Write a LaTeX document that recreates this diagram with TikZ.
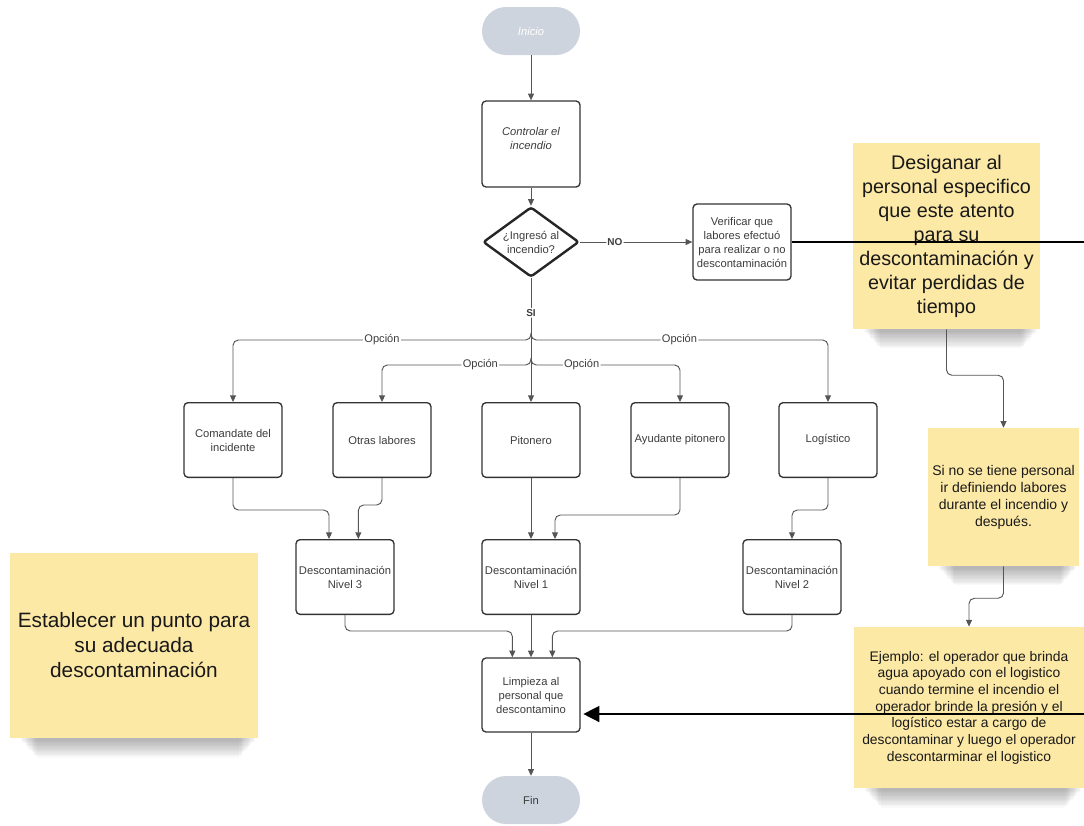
\documentclass[tikz,border=0pt]{standalone}
\usepackage{fontspec}
\setmainfont{Liberation Sans}
\usetikzlibrary{shapes.geometric, arrows.meta, calc, backgrounds}

\definecolor{pilagris}{RGB}{206,212,221}
\definecolor{notaamarilla}{RGB}{253,233,166}
\definecolor{lineagris}{RGB}{85,85,85}
\definecolor{bordegris}{RGB}{51,51,51}
\definecolor{textogris}{RGB}{60,60,60}

\newcommand{\sombranota}[1]{%
	\begin{scope}[on background layer]
	\foreach \k in {1,...,14}
		\fill[black, opacity=0.025] ($(#1.south west)+(10+1.2*\k,-4)$) rectangle ($(#1.south east)+(-2-1.2*\k,1+1.3*\k)$);
	\end{scope}}

\begin{document}
\begin{tikzpicture}[x=0.75pt, y=-0.75pt,
	caja/.style={draw=bordegris, line width=1pt, rounded corners=3pt, minimum width=73.5pt, minimum height=56pt, align=center, inner sep=2pt, text=textogris, font=\fontsize{8.4}{10.5}\selectfont},
	pildora/.style={fill=pilagris, rounded corners=18pt, minimum width=73.5pt, minimum height=36pt, text=textogris, font=\fontsize{8.4}{10.5}\selectfont},
	nota/.style={fill=notaamarilla, align=center, text=black!90},
	flujo/.style={draw=lineagris, line width=0.7pt, rounded corners=4pt, -{Triangle[width=4.5pt,length=5pt]}},
	negra/.style={draw=black, line width=1.1pt},
	opcion/.style={fill=white, inner sep=1pt, text=textogris, font=\fontsize{8.3}{10}\selectfont},
	marca/.style={fill=white, inner sep=1pt, text=textogris, font=\bfseries\fontsize{7.5}{9}\selectfont}]

\useasboundingbox (0,0) rectangle (1084,825);

\node[pildora, text=white, font=\itshape\fontsize{8.4}{10.5}\selectfont] (inicio) at (531,31) {Inicio};
\node[caja, minimum height=64.5pt, text depth=9pt, font=\itshape\fontsize{8.4}{10.5}\selectfont] (controlar) at (531,144) {Controlar el\\incendio};
\node[diamond, aspect=1.37, draw=black!85, line width=1.8pt, rounded corners=2pt, minimum width=72pt, minimum height=52.5pt, inner sep=0pt, align=center, text=textogris, font=\fontsize{8.4}{10.5}\selectfont] (ingreso) at (531,242) {¿Ingresó al\\incendio?};
\node[caja, minimum height=57pt] (verificar) at (742,242) {Verificar que\\labores efectuó\\para realizar o no\\descontaminación};

\foreach \nombre/\x/\texto in {comandante/233/{Comandate del\\incidente}, otras/382/{Otras labores}, pitonero/531/{Pitonero}, ayudante/680/{Ayudante pitonero}, logistico/828/{Logístico}}
	\node[caja] (\nombre) at (\x,440) {\texto};

\foreach \nombre/\x/\n in {nivel3/345/3, nivel1/531/1, nivel2/792/2}
	\node[caja] (\nombre) at (\x,577) {Descontaminación\\Nivel \n};

\node[caja, minimum height=55.5pt] (limpieza) at (531,695) {Limpieza al\\personal que\\descontamino};
\node[pildora] (fin) at (531,800) {Fin};

\node[nota, minimum width=140pt, minimum height=139.5pt, font=\fontsize{14.8}{18}\selectfont] (designar) at (946.5,236) {Desiganar al\\personal especifico\\que este atento\\para su\\descontaminación y\\evitar perdidas de\\tiempo};
\node[nota, minimum width=110pt, minimum height=103.5pt, font=\fontsize{10.5}{12.75}\selectfont] (sinote) at (1003.5,497) {Si no se tiene personal\\ir definiendo labores\\durante el incendio y\\después.};
\node[nota, minimum width=172.5pt, minimum height=121pt, font=\fontsize{10.4}{12.5}\selectfont] (ejemplo) at (969,707.5) {Ejemplo: el operador que brinda\\agua apoyado con el logistico\\cuando termine el incendio el\\operador brinde la presión y el\\logístico estar a cargo de\\descontaminar y luego el operador\\descontarminar el logistico};
\node[nota, minimum width=186pt, minimum height=139pt, font=\fontsize{15.6}{18.75}\selectfont] (punto) at (134,645.5) {Establecer un punto para\\su adecuada\\descontaminación};

\foreach \n in {designar, sinote, ejemplo, punto}
	\sombranota{\n};

\draw[flujo] (inicio) -- (controlar);
\draw[flujo] (controlar) -- (ingreso);
\draw[flujo] (ingreso) -- node[pos=0.31, marca] {NO} (verificar);
\draw[flujo] (ingreso) -- node[pos=0.28, marca] {SI} (pitonero);

\coordinate (rama1) at (531,333);
\coordinate (rama2) at (531,358);
\draw[flujo] (rama1) -- ++(0,7) -| node[pos=0.25, opcion] {Opción} (comandante.north);
\draw[flujo] (rama1) -- ++(0,7) -| node[pos=0.25, opcion] {Opción} (logistico.north);
\draw[flujo] (rama2) -- ++(0,7) -| node[pos=0.17, opcion] {Opción} (otras.north);
\draw[flujo] (rama2) -- ++(0,7) -| node[pos=0.17, opcion] {Opción} (ayudante.north);

\draw[flujo] (comandante.south) -- ++(0,32) -| ([xshift=-12pt]nivel3.north);
\draw[flujo] (otras.south) -- ++(0,27) -| ([xshift=10pt]nivel3.north);
\draw[flujo] (pitonero) -- (nivel1);
\draw[flujo] (ayudante.south) -- ++(0,37) -| ([xshift=18pt]nivel1.north);
\draw[flujo] (logistico.south) -- ++(0,32) -| (nivel2.north);

\draw[flujo] (nivel3.south) -- ++(0,16) -| ([xshift=-14pt]limpieza.north);
\draw[flujo] (nivel1) -- (limpieza);
\draw[flujo] (nivel2.south) -- ++(0,16) -| ([xshift=16pt]limpieza.north);
\draw[flujo] (limpieza) -- (fin);

\draw[flujo] (designar.south) -- ++(0,46) -| (sinote.north);
\draw[flujo] (sinote.south) -- ++(0,32) -| (ejemplo.north);

\coordinate (bordeA) at (1084,242);
\coordinate (bordeB) at (1084,714);
\draw[negra] (verificar) -- (bordeA);
\draw[negra, -{Triangle[width=12pt,length=12pt]}, shorten >=2pt] (bordeB) -- (limpieza.east |- bordeB);

\end{tikzpicture}
\end{document}
